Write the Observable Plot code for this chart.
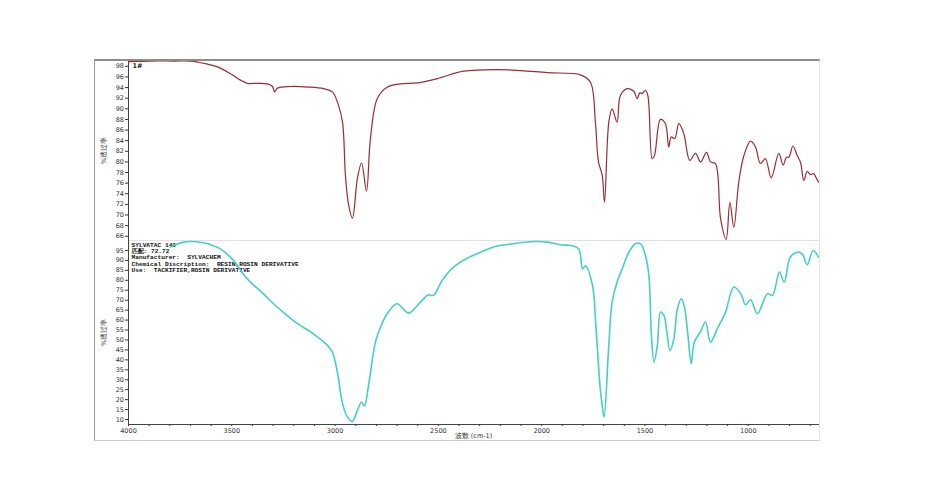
<!DOCTYPE html>
<html><head><meta charset="utf-8">
<script src="https://cdn.jsdelivr.net/npm/d3@7"></script>
<script src="https://cdn.jsdelivr.net/npm/@observablehq/plot@0.6"></script>
<style>
body{margin:0;background:#fff;}
#wrap{position:relative;width:950px;height:500px;overflow:hidden;background:#fff;}
#top,#bot{position:absolute;left:0;}
#top{top:0;}
#bot{top:240px;}
.frame{position:absolute;left:94px;top:59px;width:726px;height:382px;border-left:1px solid #9a9a9a;border-top:2px solid #8c8c8c;border-bottom:1px solid #cfcfcf;border-right:1px solid #e6e6e6;box-sizing:border-box;pointer-events:none;}
</style></head>
<body>
<div id="wrap"><div id="top"></div><div id="bot"></div><div class="frame"></div></div>
<script>
// Top spectrum (sample "1#")
const wnTop = [4000,3894,3780,3700,3627,3569,3506,3458,3424,3380,3327,3303,3293,3279,3216,3130,3056,3013,2984,2964,2950,2935,2916,2892,2872,2848,2829,2795,2746,2683,2601,2504,2378,2214,2100,1972,1812,1764,1740,1725,1707,1696,1675,1659,1635,1619,1586,1554,1538,1525,1514,1498,1486,1465,1454,1425,1401,1385,1373,1356,1336,1312,1283,1255,1231,1202,1183,1159,1134,1107,1089,1070,1046,1021,989,965,941,917,889,852,831,815,803,784,763,747,731,715,699,683,674,660];
const tTop = [98.9,99.0,99.0,99.0,98.5,97.9,96.6,95.4,94.8,94.8,94.7,94.2,93.2,93.9,94.2,94.1,93.8,93.2,90.7,87.5,77.5,72.0,69.4,76.9,79.8,74.5,84.4,92.0,94.1,94.7,94.9,95.7,97.1,97.4,97.2,96.8,96.4,95.0,87.5,80.0,77.5,72.4,87.5,90.0,87.5,92.5,93.8,93.3,91.9,93.0,92.9,93.5,92.5,80.6,81.2,88.0,87.2,82.8,84.7,84.4,87.2,85.3,80.3,81.6,80.0,81.8,80.0,79.7,69.3,65.4,72.4,67.7,76.2,81.2,83.9,82.8,79.7,80.6,77.0,81.6,79.4,80.9,80.9,83.0,81.2,79.9,76.5,78.2,77.6,77.8,77.2,76.2];

// Bottom spectrum (library match SYLVATAC 140)
const wnBot = [3797,3734,3637,3603,3555,3492,3440,3410,3347,3298,3240,3182,3105,3037,3013,2989,2964,2940,2916,2892,2872,2858,2838,2805,2780,2748,2700,2645,2587,2548,2524,2482,2427,2361,2296,2215,2135,2054,1973,1909,1845,1821,1812,1802,1788,1754,1740,1730,1717,1709,1698,1677,1659,1635,1610,1578,1546,1522,1498,1481,1469,1456,1440,1424,1408,1396,1379,1360,1343,1324,1309,1292,1276,1261,1232,1207,1183,1150,1110,1070,1036,1013,989,956,907,883,849,826,797,763,739,715,686,660];
const tBot = [96.7,99.2,98.9,97.9,95.8,90.0,82.5,79.1,73.2,68.2,63.0,58.2,53.1,47.3,43.9,33.9,18.0,11.2,9.1,14.6,18.8,16.8,27.2,48.9,56.5,63.2,68.2,63.5,69.0,72.7,72.4,79.9,86.6,91.1,94.1,97.2,98.4,99.4,99.2,97.9,97.2,95.8,92.5,85.8,87.3,77.4,60.7,45.0,26.0,18.8,11.2,43.9,69.0,79.1,85.8,94.1,98.4,98.4,92.5,82.4,52.3,38.9,47.3,64.0,62.3,55.6,44.7,50.6,65.7,70.7,66.5,52.3,38.1,49.0,54.0,59.0,48.9,55.6,64.0,76.6,73.2,67.7,70.2,63.2,73.2,72.4,84.1,79.1,91.6,94.1,93.3,87.8,95.0,91.6];

// Ticks and texts
const xDomain = [4000, 660];
const xLabelTicks = [4000, 3500, 3000, 2500, 2000, 1500, 1000];
const xMinorTicks = d3.range(700, 4001, 100);
const yTopTicks = d3.range(66, 99, 2);
const yBotTicks = d3.range(10, 96, 5);
const yTitle = "%透过率";
const xTitle = "波数 (cm-1)";
const sampleLabel = ["1#"];
const infoLines = ["SYLVATAC 140", "匹配: 72.72", "Manufacturer:  SYLVACHEM", "Chemical Discription:  RESIN,ROSIN DERIVATIVE", "Use:  TACKIFIER,ROSIN DERIVATIVE"];

const topData = wnTop.map((w, i) => ({wn: w, t: tTop[i]}));
const botData = wnBot.map((w, i) => ({wn: w, t: tBot[i]}));

const common = {
  width: 950, marginLeft: 128, marginRight: 132,
  style: {background: "transparent", fontFamily: "'DejaVu Sans', sans-serif", fontSize: "6.5px", color: "#333", overflow: "visible"}
};

const topPlot = Plot.plot({
  ...common,
  height: 240, marginTop: 60, marginBottom: 0,
  x: {domain: xDomain, axis: null},
  y: {domain: [65.2, 99.1]},
  marks: [
    Plot.frame({anchor: "bottom", stroke: "#e2e2e2"}),
    Plot.axisY({ticks: yTopTicks, tickSize: 3, tickPadding: 1.5, fontSize: 6.5, label: yTitle, labelAnchor: "center", labelArrow: "none", labelOffset: 27}),
    Plot.frame({anchor: "left", stroke: "#444"}),
    Plot.line(topData, {x: "wn", y: "t", stroke: "#9c2c33", strokeWidth: 1.2, curve: "catmull-rom"}),
    Plot.text(sampleLabel, {frameAnchor: "top-left", dx: 4, dy: 3, fontSize: 6.5, fontWeight: "bold", fill: "#222"})
  ]
});
document.getElementById("top").append(topPlot);

const botPlot = Plot.plot({
  ...common,
  height: 260, marginTop: 0, marginBottom: 76,
  x: {domain: xDomain},
  y: {domain: [7.5, 100]},
  marks: [
    Plot.axisY({ticks: yBotTicks, tickSize: 3, tickPadding: 1.5, fontSize: 6.5, label: yTitle, labelAnchor: "center", labelArrow: "none", labelOffset: 27}),
    Plot.axisX({ticks: xMinorTicks, tickSize: 2, tickFormat: () => "", label: null}),
    Plot.axisX({ticks: xLabelTicks, tickSize: 0, tickPadding: 4, tickFormat: d => String(d), fontSize: 6.5, label: xTitle, labelAnchor: "center", labelArrow: "none", labelOffset: 13}),
    Plot.frame({anchor: "left", stroke: "#444"}),
    Plot.frame({anchor: "bottom", stroke: "#444"}),
    Plot.text([infoLines.join("\n")], {frameAnchor: "top-left", dx: 3, dy: 2, lineAnchor: "top", textAnchor: "start", fontSize: 6.2, lineHeight: 1.0, fontFamily: "'Liberation Mono', monospace", fontWeight: "bold", fill: "#111"}),
    Plot.line(botData, {x: "wn", y: "t", stroke: "#46cfc3", strokeWidth: 1.6, curve: "catmull-rom"})
  ]
});
document.getElementById("bot").append(botPlot);
</script>
</body></html>
